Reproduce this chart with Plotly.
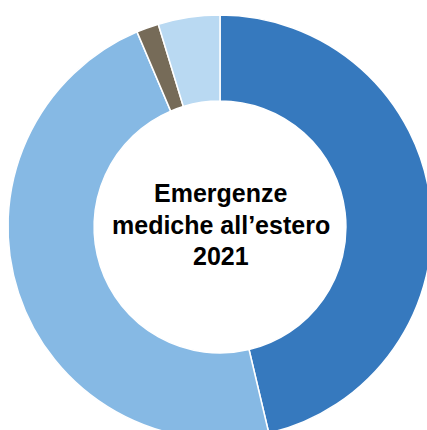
import plotly.graph_objects as go

categories = ["Malattia", "Infortunio", "Decesso", "Altro"]
values = [46.3, 47.3, 1.7, 4.7]
colors = ["#3679BE", "#86B9E4", "#766B58", "#B9D9F2"]
center_lines = ["Emergenze", "mediche all\u2019estero", "2021"]

fig = go.Figure(go.Pie(
    labels=categories,
    values=values,
    sort=False,
    direction="clockwise",
    rotation=0,
    hole=0.594,
    marker=dict(colors=colors, line=dict(color="white", width=1.5)),
    textinfo="none",
    hoverinfo="label+percent",
    showlegend=False,
))

W, H = 440, 445
for i, line in enumerate(center_lines):
    fig.add_annotation(
        text=f"<b>{line}</b>",
        x=221 / W, y=1 - (187 + 33 * i) / H,
        xref="paper", yref="paper",
        xanchor="center", yanchor="middle",
        showarrow=False,
        font=dict(family="Liberation Sans, Arial, sans-serif", size=25, color="#000000"),
    )

fig.update_layout(
    width=W, height=H,
    margin=dict(l=8, r=8, t=15, b=6),
    paper_bgcolor="white",
    plot_bgcolor="white",
)

fig.write_html(
    "out.html",
    config={"displayModeBar": False},
    post_script="document.body.style.margin='0';document.body.style.overflow='hidden';document.documentElement.style.overflow='hidden';",
)
